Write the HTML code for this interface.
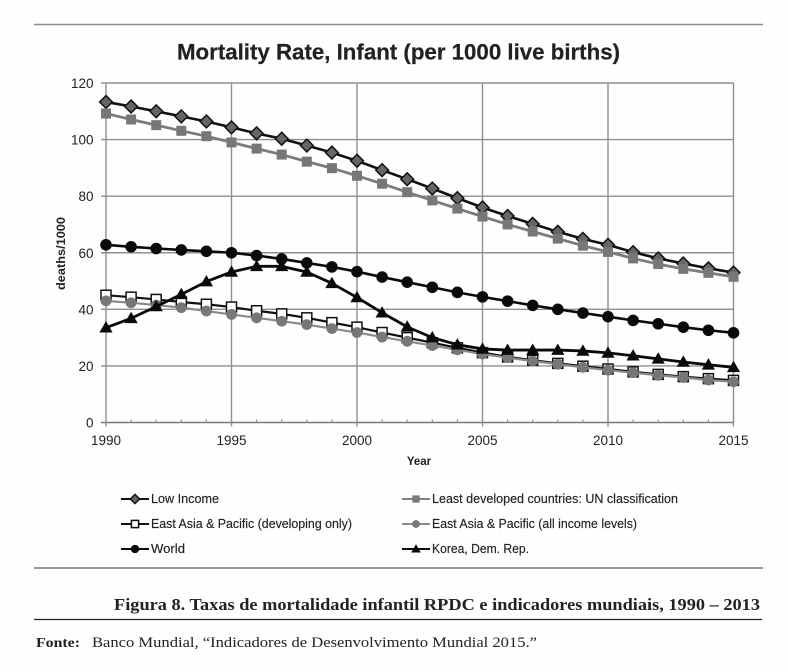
<!DOCTYPE html>
<html lang="en">
<head>
<meta charset="utf-8">
<title>Mortality Rate, Infant</title>
<style>
html,body{margin:0;padding:0;background:#fefefe;width:788px;height:672px;overflow:hidden}
svg{display:block;filter:blur(0.35px)}
text{font-family:"Liberation Sans",sans-serif;fill:#222}
.serif{font-family:"Liberation Serif",serif}
</style>
</head>
<body>
<svg id="chart" xmlns="http://www.w3.org/2000/svg" width="788" height="672" viewBox="0 0 788 672">
  <line x1="34" y1="24.5" x2="763" y2="24.5" stroke="#8c8c8c" stroke-width="1.4"/>
  <text x="177" y="59.5" font-size="22.5" font-weight="bold" fill="#111" stroke="#111" stroke-width="0.2" textLength="443" lengthAdjust="spacingAndGlyphs">Mortality Rate, Infant (per 1000 live births)</text>
  <g id="grid"></g>
  <g id="ticks"></g>
  <text transform="translate(65,253.5) rotate(-90)" text-anchor="middle" font-size="12" font-weight="bold" textLength="73" lengthAdjust="spacingAndGlyphs">deaths/1000</text>
  <text x="419" y="465" text-anchor="middle" font-size="11.5" font-weight="bold">Year</text>
  <g id="series"></g>
  <g id="legend"></g>
  <line x1="34" y1="568" x2="763" y2="568" stroke="#777" stroke-width="1.4"/>
  <text class="serif" x="114" y="610" font-size="16.5" font-weight="bold" fill="#151515" textLength="646" lengthAdjust="spacingAndGlyphs">Figura 8. Taxas de mortalidade infantil RPDC e indicadores mundiais, 1990 – 2013</text>
  <line x1="34" y1="619.5" x2="762" y2="619.5" stroke="#222" stroke-width="1.2"/>
  <text class="serif" x="36" y="647" font-size="14" font-weight="bold" fill="#222" textLength="44" lengthAdjust="spacingAndGlyphs">Fonte:</text>
  <text class="serif" x="92" y="647" font-size="14.5" fill="#4a4a4a" textLength="445" lengthAdjust="spacingAndGlyphs">Banco Mundial, “Indicadores de Desenvolvimento Mundial 2015.”</text>
</svg>
<script>
const years = [1990,1991,1992,1993,1994,1995,1996,1997,1998,1999,2000,2001,2002,2003,2004,2005,2006,2007,2008,2009,2010,2011,2012,2013,2014,2015];
const yTicks = [0,20,40,60,80,100,120];
const xTicks = [1990,1995,2000,2005,2010,2015];
const lowIncome = [113.3,111.7,110,108.2,106.4,104.3,102.2,100.3,97.9,95.4,92.5,89.2,86,82.7,79.3,76,73,70.2,67.4,64.9,62.8,60.2,58,56.2,54.5,53];
const leastDeveloped = [109.2,107.1,105.1,103.1,101.2,99,96.8,94.7,92.2,89.9,87.2,84.4,81.4,78.5,75.6,72.8,70,67.5,65,62.5,60.3,58,56,54.3,52.9,51.5];
const eapDeveloping = [45,44.3,43.5,42.6,41.8,40.8,39.5,38.4,37,35.3,33.7,31.8,30,28.2,26.4,24.7,23.2,22,20.9,19.9,18.9,17.9,17,16.2,15.5,14.9];
const eapAll = [43,42.3,41.5,40.6,39.4,38.2,37,35.8,34.6,33.2,31.8,30.2,28.7,27.2,25.7,24.2,22.9,21.7,20.6,19.5,18.5,17.6,16.7,15.9,15,14.4];
const world = [62.8,62.1,61.5,61,60.5,60,59,57.8,56.4,55,53.3,51.4,49.6,47.8,46,44.4,42.9,41.4,40,38.7,37.4,36.1,34.9,33.7,32.6,31.7];
const korea = [33.5,36.8,41,45.3,49.8,53.2,55.2,55.2,53.2,49.2,44.2,38.8,33.8,30,27.5,26,25.6,25.6,25.6,25.3,24.6,23.6,22.5,21.4,20.4,19.5];

const NS = 'http://www.w3.org/2000/svg';
const plot = {l:106, r:733.5, t:83, b:422.5};
function xPos(v){ return plot.l + (v-1990)/(2015-1990)*(plot.r-plot.l); }
function yPos(v){ return plot.b - v/120*(plot.b-plot.t); }
function mk(tag, attrs, parent){
  const el = document.createElementNS(NS, tag);
  for (const k in attrs) el.setAttribute(k, attrs[k]);
  parent.appendChild(el);
  return el;
}

const gridG = document.getElementById('grid');
const ticksG = document.getElementById('ticks');
const GRID = '#8f8f8f';

yTicks.forEach(function(v){
  const line = mk('line',{x1:plot.l-5,x2:plot.r,y1:yPos(v),y2:yPos(v),stroke:v===0?'#777':GRID,'stroke-width':1.4},gridG);
  
  
  const t = mk('text',{x:93.5,y:yPos(v)+5,'text-anchor':'end','font-size':13.5},ticksG);
  t.textContent = v;
  
  
});
xTicks.forEach(function(v){
  const line = mk('line',{x1:xPos(v),x2:xPos(v),y1:plot.t,y2:plot.b+4,stroke:GRID,'stroke-width':1.4},gridG);
  
  
  const t = mk('text',{x:xPos(v),y:445,'text-anchor':'middle','font-size':13.5},ticksG);
  t.textContent = v;
  
  
});
years.forEach(function(v){
  const tick = mk('line',{x1:xPos(v),x2:xPos(v),y1:plot.b-3,y2:plot.b,stroke:GRID,'stroke-width':1.2},gridG);
  
  
});

function marker(kind, x, y, parent, s){
  let el;
  if (kind==='diamond'){
    el = mk('polygon',{points:[x,y-6.4*s,x+6.4*s,y,x,y+6.4*s,x-6.4*s,y].join(' '),fill:'#666',stroke:'#111','stroke-width':1.5},parent);
  } else if (kind==='graySquare'){
    el = mk('rect',{x:x-5*s,y:y-5*s,width:10*s,height:10*s,fill:'#777'},parent);
  } else if (kind==='whiteSquare'){
    el = mk('rect',{x:x-5*s,y:y-5*s,width:10*s,height:10*s,fill:'#fff',stroke:'#111','stroke-width':1.5},parent);
  } else if (kind==='grayCircle'){
    el = mk('circle',{cx:x,cy:y,r:5.4*s,fill:'#777'},parent);
  } else if (kind==='blackCircle'){
    el = mk('circle',{cx:x,cy:y,r:5.8*s,fill:'#0a0a0a'},parent);
  } else {
    el = mk('polygon',{points:[x,y-6.6*s,x+6.6*s,y+4.8*s,x-6.6*s,y+4.8*s].join(' '),fill:'#0a0a0a'},parent);
  }
  return el;
}

const seriesG = document.getElementById('series');
function drawSeries(values, name, kind, color, width){
  const g = mk('g',{},seriesG);
  
  
  const pts = values.map(function(v,i){ return xPos(years[i]).toFixed(2)+','+yPos(v).toFixed(2); }).join(' ');
  const line = mk('polyline',{points:pts,fill:'none',stroke:color,'stroke-width':width,'stroke-linejoin':'round'},g);
  
  
  values.forEach(function(v,i){
    const m = marker(kind, xPos(years[i]), yPos(v), g, 1);
    
    
  });
}
drawSeries(lowIncome,'low-income-series','diamond','#111',2.6);
drawSeries(leastDeveloped,'least-developed-series','graySquare','#7c7c7c',2.8);
drawSeries(eapDeveloping,'east-asia-developing-series','whiteSquare','#111',2.2);
drawSeries(eapAll,'east-asia-all-series','grayCircle','#8a8a8a',2.2);
drawSeries(korea,'korea-series','triangle','#0a0a0a',2.8);
drawSeries(world,'world-series','blackCircle','#0a0a0a',2.6);

const legendLabels = ['Low Income','Least developed countries: UN classification','East Asia & Pacific (developing only)','East Asia & Pacific (all income levels)','World','Korea, Dem. Rep.'];
const legendKinds = ['diamond','graySquare','whiteSquare','grayCircle','blackCircle','triangle'];
const legendColors = ['#111','#808080','#111','#8a8a8a','#0a0a0a','#0a0a0a'];
const legendGeom = [68,246,201,205,34,97];
const legendG = document.getElementById('legend');
legendLabels.forEach(function(label,i){
  const col = i%2, row = Math.floor(i/2);
  const x0 = col===0 ? 121 : 402;
  const y = 499 + row*25;
  const g = mk('g',{},legendG);
  
  
  const swatch = mk('line',{x1:x0,x2:x0+28,y1:y,y2:y,stroke:legendColors[i],'stroke-width':2},g);
  
  
  const mark = marker(legendKinds[i], x0+14, y, g, 0.72);
  
  
  const t = mk('text',{x:x0+30,y:y+4,'font-size':12.5,fill:'#222',stroke:'#222','stroke-width':0.15,textLength:legendGeom[i],lengthAdjust:'spacingAndGlyphs'},g);
  t.textContent = label;
  
  
});
</script>
</body>
</html>
